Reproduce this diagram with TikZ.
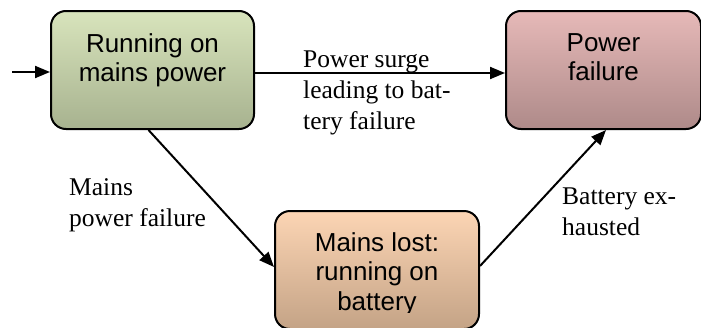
\documentclass[tikz,border=0pt]{standalone}
\usepackage{fontspec}
\setmainfont{Liberation Serif}
\newfontfamily\boxfont{Liberation Sans}
\usepackage{tikz}
\usetikzlibrary{arrows.meta,positioning}
\tikzset{>={Triangle[length=15pt,width=12pt]}}
\tikzset{
  statebox/.style={draw=black, line width=2pt, rounded corners=15pt,
    minimum width=203pt, minimum height=118pt, inner sep=0pt, anchor=north west},
  boxtext/.style={align=center, inner sep=0pt, font=\boxfont\fontsize{26}{29.5}\selectfont},
  edgelabel/.style={align=left, inner sep=0pt, anchor=north west,
    font=\fontsize{25.5}{31}\selectfont},
  flow/.style={->, line width=2pt}
}

\begin{document}
\begin{tikzpicture}[x=1pt,y=-1pt]
\useasboundingbox (0,0) rectangle (701,327);

% the three states
\node[statebox, top color={rgb,255:red,216;green,228;blue,188}, bottom color={rgb,255:red,167;green,178;blue,143}] (runmains) at (50,10) {};
\node[statebox, minimum width=195pt, top color={rgb,255:red,230;green,185;blue,184}, bottom color={rgb,255:red,174;green,138;blue,137}] (powerfail) at (505,10) {};
\node[statebox, minimum width=204pt, top color={rgb,255:red,252;green,213;blue,180}, bottom color={rgb,255:red,196;green,163;blue,134}] (onbattery) at (274,210) {};

\node[boxtext, below=23pt of runmains.north] (runmainstext) {Running on\\mains power};
\node[boxtext, below=23pt of powerfail.north] (powerfailtext) {Power\\failure};
\begin{scope}
  \clip (274,210) rectangle (478,312);
  \node[boxtext, below=22pt of onbattery.north] (onbatterytext) {Mains lost:\\running on\\battery};
\end{scope}

% transitions
\coordinate (entry) at (12,72);
\draw[flow] (entry) -- (entry -| runmains.west);
\draw[flow] ([yshift=-3pt]runmains.east) -- ([yshift=-3pt]powerfail.west);
\draw[flow] ([xshift=-4pt]runmains.south) -- ([yshift=3pt]onbattery.west);
\draw[flow] ([yshift=4pt]onbattery.east) -- ([xshift=2.5pt]powerfail.south);

\node[edgelabel] (surge) at (303,51) {Power surge\\leading to bat-\\tery failure};
\node[edgelabel] (mainsloss) at (69,178) {Mains\\power failure};
\node[edgelabel] (exhausted) at (562,188) {Battery ex-\\hausted};

\end{tikzpicture}
\end{document}
